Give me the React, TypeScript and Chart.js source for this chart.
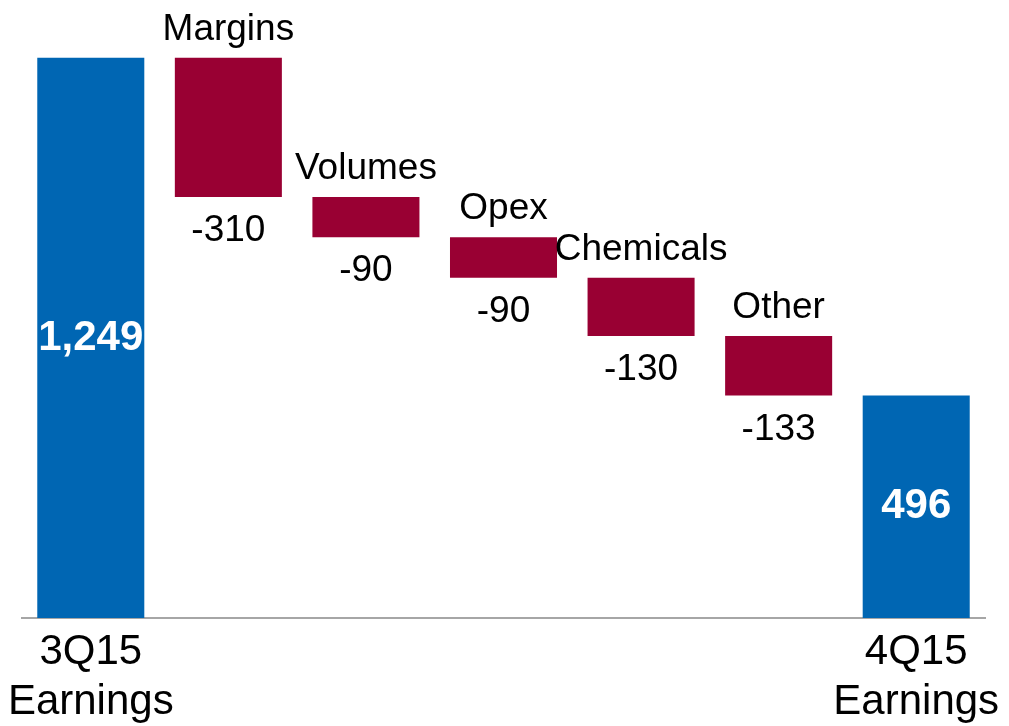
import React, { useEffect, useRef } from "react";
import { Chart, registerables } from "chart.js";

Chart.register(...registerables);

const categories: string[][] = [["3Q15", "Earnings"], ["Margins"], ["Volumes"], ["Opex"], ["Chemicals"], ["Other"], ["4Q15", "Earnings"]];
const values: number[] = [1249, -310, -90, -90, -130, -133, 496];
const isTotal: boolean[] = [true, false, false, false, false, false, true];
const valueLabels: string[] = ["1,249", "-310", "-90", "-90", "-130", "-133", "496"];

const BLUE = "#0066b3";
const RED = "#990033";
const FONT = "'Liberation Sans', Arial, sans-serif";

function buildFloating(): [number, number][] {
  const out: [number, number][] = [];
  let running = 0;
  values.forEach((v, i) => {
    if (isTotal[i]) {
      out.push([0, v]);
      running = v;
    } else {
      const next = running + v;
      out.push([Math.min(running, next), Math.max(running, next)]);
      running = next;
    }
  });
  return out;
}

const labelPlugin = {
  id: "waterfallLabels",
  afterDatasetsDraw(chart: any) {
    const ctx = chart.ctx;
    const meta = chart.getDatasetMeta(0);
    ctx.save();
    meta.data.forEach((el: any, i: number) => {
      const top = Math.min(el.y, el.base);
      const bottom = Math.max(el.y, el.base);
      const x = el.x;
      ctx.textAlign = "center";
      if (isTotal[i]) {
        ctx.font = `bold 42px ${FONT}`;
        ctx.fillStyle = "#ffffff";
        ctx.textBaseline = "middle";
        ctx.fillText(valueLabels[i], x, (top + bottom) / 2);
      } else {
        ctx.font = `37px ${FONT}`;
        ctx.fillStyle = "#000000";
        ctx.textBaseline = "alphabetic";
        ctx.fillText(categories[i][0], x, top - 18);
        ctx.fillText(valueLabels[i], x, bottom + 44);
      }
    });
    ctx.restore();
  },
};

export default function App() {
  const ref = useRef<HTMLCanvasElement>(null);
  useEffect(() => {
    if (!ref.current) return;
    const chart = new Chart(ref.current, {
      type: "bar",
      data: {
        labels: categories.map((c) => c.join(" ")),
        datasets: [
          {
            data: buildFloating() as any,
            backgroundColor: isTotal.map((t) => (t ? BLUE : RED)),
            borderWidth: 0,
            barPercentage: 0.778,
            categoryPercentage: 1,
          },
        ],
      },
      options: {
        animation: false,
        responsive: false,
        layout: { padding: { left: 22, right: 24, top: 35, bottom: -10 } },
        plugins: { legend: { display: false }, tooltip: { enabled: false }, title: { display: false } },
        scales: {
          x: {
            grid: { display: false, drawTicks: false },
            border: { display: true, color: "#a6a6a6", width: 2 },
            afterFit: (scale: any) => {
              scale.paddingLeft = 0;
              scale.paddingRight = 0;
            },
            ticks: {
              padding: 9,
              color: "#000000",
              font: { family: FONT, size: 42, lineHeight: 1.19 },
              maxRotation: 0,
              autoSkip: false,
              callback: (_v: any, i: number) => (isTotal[i] ? categories[i] : ""),
            },
          },
          y: { display: false, min: 0, max: 1300 },
        },
      },
      plugins: [labelPlugin],
    });
    return () => chart.destroy();
  }, []);
  return (
    <canvas
      ref={ref}
      width={1009}
      height={726}
      style={{ position: "fixed", left: 0, top: 0, display: "block", width: 1009, height: 726 }}
    />
  );
}
